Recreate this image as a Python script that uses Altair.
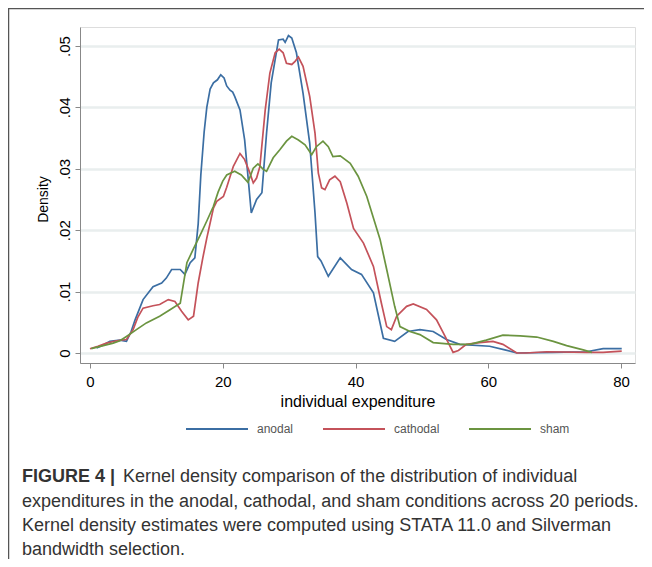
import altair as alt
import pandas as pd

# ---------------- data ----------------
series_names = ["anodal", "cathodal", "sham"]
series_colors = ["#3b6ea3", "#c4525a", "#6b9440"]

anodal_x = [1.0, 2.0, 3.0, 4.5, 5.5, 6.2, 6.8, 8.0, 9.5, 10.8, 11.5, 12.3, 13.6, 14.3, 15.1, 15.8,
            16.3, 16.7, 17.2, 17.6, 18.1, 18.6, 19.2, 19.7, 20.2, 20.6, 21.1, 21.5, 21.8, 22.6, 23.3,
            23.8, 24.3, 25.1, 25.9, 26.6, 27.3, 28.4, 29.1, 29.4, 29.9, 30.4, 31.1, 32.1, 33.1, 33.9,
            34.3, 34.8, 35.9, 37.7, 39.4, 40.9, 42.7, 44.2, 45.9, 47.9, 49.7, 51.7, 53.7, 55.7, 60.2,
            62.5, 64.3, 69.8, 74.8, 77.3, 80.1]
anodal_y = [0.0008, 0.0013, 0.0019, 0.0021, 0.0019, 0.0035, 0.0054, 0.0087, 0.0108, 0.0114, 0.0122,
            0.0136, 0.0136, 0.0128, 0.0147, 0.0155, 0.0210, 0.0290, 0.0360, 0.0400, 0.0430, 0.0440,
            0.0445, 0.0453, 0.0448, 0.0435, 0.0428, 0.0425, 0.0418, 0.0396, 0.0347, 0.0288, 0.0228,
            0.0250, 0.0261, 0.0358, 0.0440, 0.0510, 0.0511, 0.0506, 0.0517, 0.0513, 0.0489, 0.0423,
            0.0342, 0.0228, 0.0157, 0.0150, 0.0125, 0.0155, 0.0136, 0.0128, 0.0098, 0.0024, 0.0019,
            0.0035, 0.0038, 0.0035, 0.0022, 0.0014, 0.0011, 0.0005, 0.0000, 0.0001, 0.0002, 0.0007,
            0.0007]

cathodal_x = [0.0, 1.2, 2.5, 4.0, 5.5, 6.5, 7.2, 8.0, 9.5, 10.5, 11.8, 12.8, 13.8, 14.8, 15.6, 16.3,
              17.0, 17.6, 18.6, 19.1, 20.1, 20.6, 21.6, 22.6, 23.3, 24.1, 24.6, 25.1, 25.6, 26.4,
              27.1, 27.9, 28.5, 29.1, 29.6, 30.4, 30.9, 31.4, 32.1, 33.1, 33.9, 34.4, 34.9, 35.4,
              36.1, 36.9, 37.7, 38.7, 39.7, 41.2, 42.7, 43.9, 44.7, 45.4, 46.2, 47.7, 48.7, 50.7,
              52.2, 53.5, 54.7, 55.5, 56.7, 58.7, 60.7, 62.2, 64.3, 65.7, 68.8, 74.8, 77.3, 80.1]
cathodal_y = [0.0007, 0.0011, 0.0016, 0.0020, 0.0022, 0.0038, 0.0058, 0.0073, 0.0077, 0.0079,
              0.0087, 0.0084, 0.0068, 0.0054, 0.0060, 0.0114, 0.0155, 0.0187, 0.0236, 0.0247,
              0.0255, 0.0270, 0.0304, 0.0325, 0.0315, 0.0293, 0.0277, 0.0285, 0.0304, 0.0396,
              0.0456, 0.0489, 0.0495, 0.0489, 0.0472, 0.0470, 0.0475, 0.0482, 0.0467, 0.0418,
              0.0358, 0.0293, 0.0269, 0.0266, 0.0282, 0.0288, 0.0279, 0.0244, 0.0203, 0.0179,
              0.0141, 0.0081, 0.0043, 0.0038, 0.0060, 0.0076, 0.0080, 0.0071, 0.0054, 0.0027,
              0.0001, 0.0004, 0.0014, 0.0017, 0.0019, 0.0014, 0.0000, 0.0000, 0.0002, 0.0001,
              0.0001, 0.0003]

sham_x = [0.2, 2.0, 3.5, 4.5, 5.5, 7.0, 8.5, 10.5, 12.0, 13.6, 14.6, 15.6, 16.6, 17.6, 18.6, 19.3,
          20.0, 20.6, 21.8, 22.8, 23.8, 24.6, 25.3, 26.1, 26.6, 27.6, 28.6, 29.6, 30.4, 31.4, 32.4,
          33.4, 34.1, 35.1, 35.9, 36.6, 37.7, 39.2, 40.4, 41.7, 42.7, 43.7, 44.7, 45.9, 46.7, 48.2,
          49.7, 51.7, 54.7, 57.2, 59.7, 62.2, 64.8, 67.3, 69.8, 71.8, 74.3, 75.6]
sham_y = [0.0007, 0.0012, 0.0016, 0.0020, 0.0027, 0.0038, 0.0049, 0.0060, 0.0070, 0.0081, 0.0147,
          0.0170, 0.0192, 0.0215, 0.0239, 0.0262, 0.0280, 0.0290, 0.0296, 0.0290, 0.0278, 0.0301,
          0.0308, 0.0299, 0.0296, 0.0318, 0.0331, 0.0345, 0.0353, 0.0347, 0.0339, 0.0323, 0.0336,
          0.0345, 0.0336, 0.0320, 0.0321, 0.0309, 0.0288, 0.0255, 0.0220, 0.0185, 0.0136, 0.0076,
          0.0043, 0.0035, 0.0030, 0.0017, 0.0014, 0.0014, 0.0021, 0.0029, 0.0028, 0.0026, 0.0019,
          0.0012, 0.0005, 0.0001]

x_ticks = [0, 20, 40, 60, 80]
y_ticks = [0, 0.01, 0.02, 0.03, 0.04, 0.05]

caption_bold = "FIGURE 4 |"
caption_lines = [
    "Kernel density comparison of the distribution of individual",
    "expenditures in the anodal, cathodal, and sham conditions across 20 periods.",
    "Kernel density estimates were computed using STATA 11.0 and Silverman",
    "bandwidth selection.",
]

# ---------------- build table ----------------
rows = []
for name, xs, ys in [("anodal", anodal_x, anodal_y),
                     ("cathodal", cathodal_x, cathodal_y),
                     ("sham", sham_x, sham_y)]:
    for xv, yv in zip(xs, ys):
        rows.append({"series": name, "expenditure": xv, "density": yv})
df = pd.DataFrame(rows)

FONT = "Liberation Sans"
W, H = 555, 336

x_scale = alt.Scale(domain=[-1.5, 82.1], nice=False, zero=False)
y_scale = alt.Scale(domain=[-0.00163, 0.0531], nice=False, zero=False)

lines = alt.Chart(df).mark_line(strokeWidth=1.7, clip=False).encode(
    x=alt.X("expenditure:Q", scale=x_scale,
            axis=alt.Axis(values=x_ticks, title="individual expenditure", grid=False,
                          labelFontSize=15, labelPadding=6, titleFontSize=16,
                          titleFontWeight="normal", titlePadding=4)),
    y=alt.Y("density:Q", scale=y_scale,
            axis=alt.Axis(values=y_ticks, title="Density", grid=True,
                          gridColor="#e9eeee", gridWidth=2.5,
                          labelExpr="datum.value < 0.005 ? '0' : '.0' + round(datum.value * 100)",
                          labelAngle=270, labelAlign="center", labelBaseline="alphabetic",
                          labelFontSize=15, labelPadding=6,
                          titleFontSize=14, titleFontWeight="normal", titleAngle=270,
                          titleX=-37, titleY=172, titleAlign="center", titleBaseline="middle")),
    color=alt.Color("series:N", sort=series_names,
                    scale=alt.Scale(domain=series_names, range=series_colors),
                    legend=alt.Legend(title=None, orient="none", legendX=105, legendY=370,
                                      direction="horizontal", symbolType="stroke",
                                      symbolSize=3844, symbolStrokeWidth=1.8,
                                      labelFontSize=12, labelColor="#555", labelFont=FONT,
                                      labelOffset=8, columnPadding=25, padding=0)),
)

frame_src = pd.DataFrame({"k": [0]})
frame_left = alt.Chart(frame_src).mark_rule(color="#555", strokeWidth=1.5).encode(
    x=alt.value(-71.5), y=alt.value(-19), y2=alt.value(600))
frame_top = alt.Chart(frame_src).mark_rule(color="#555", strokeWidth=1.5).encode(
    x=alt.value(-72), x2=alt.value(700), y=alt.value(-18.5))

cap_y = [455, 479.5, 504, 528]
cap_x = [43, -58, -58, -58]
cap_layers = []
cap_layers.append(
    alt.Chart(pd.DataFrame({"t": [caption_bold]})).mark_text(
        align="left", baseline="alphabetic", font=FONT, fontSize=18, fontWeight="bold",
        color="#333").encode(text="t:N", x=alt.value(-58), y=alt.value(cap_y[0])))
for txt, cx, cy in zip(caption_lines, cap_x, cap_y):
    cap_layers.append(
        alt.Chart(pd.DataFrame({"t": [txt]})).mark_text(
            align="left", baseline="alphabetic", font=FONT, fontSize=18,
            color="#333").encode(text="t:N", x=alt.value(cx), y=alt.value(cy)))

chart = alt.layer(lines, frame_left, frame_top, *cap_layers).properties(
    width=W, height=H,
    autosize=alt.AutoSizeParams(type="none"),
    padding={"left": 72, "top": 19, "right": 9, "bottom": 196},
).configure_view(stroke=None).configure_axis(
    labelFont=FONT, titleFont=FONT, labelColor="#222", titleColor="#222",
    domainColor="#555", tickColor="#555", tickSize=5, domainWidth=1.2,
).configure(background="white")

chart.save("out.html", embed_options={"renderer": "svg", "actions": False})
